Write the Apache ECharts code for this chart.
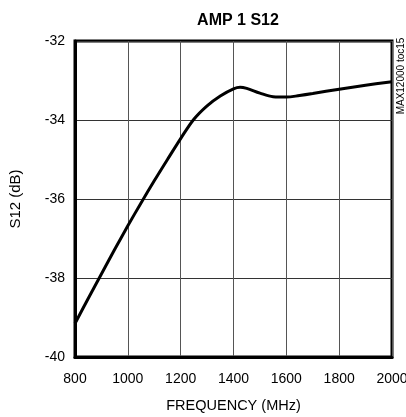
<!DOCTYPE html>
<html>
<head>
<meta charset="utf-8">
<script src="https://cdn.jsdelivr.net/npm/echarts@6/dist/echarts.min.js"></script>
<style>html,body{margin:0;padding:0;background:#fff;}#c{width:406px;height:417px;}</style>
</head>
<body>
<div id="c"></div>
<script>
var freq = [800, 850, 900, 950, 1000, 1050, 1100, 1150, 1200, 1250, 1300, 1350, 1400, 1425, 1450, 1500, 1550, 1600, 1650, 1700, 1800, 1900, 2000];
var s12  = [-39.15, -38.52, -37.9, -37.28, -36.68, -36.1, -35.54, -35.0, -34.47, -33.98, -33.64, -33.39, -33.21, -33.17, -33.2, -33.32, -33.41, -33.42, -33.38, -33.33, -33.22, -33.12, -33.03];
var xTicks = [800, 1000, 1200, 1400, 1600, 1800, 2000];
var yTicks = [-40, -38, -36, -34, -32];

var font = 'Liberation Sans, Arial, sans-serif';
var chart = echarts.init(document.getElementById('c'), null, {renderer: 'canvas'});
chart.setOption({
  animation: false,
  title: {
    text: 'AMP 1 S12', left: 233, top: 8, textAlign: 'center',
    textStyle: {fontFamily: font, fontSize: 16, fontWeight: 'bold', color: '#000'}
  },
  grid: {left: 75, right: 14, top: 41, bottom: 60, outerBoundsMode: 'none', containLabel: false,
         show: true, borderColor: '#000', borderWidth: 3, backgroundColor: 'transparent'},
  xAxis: {
    type: 'value', min: xTicks[0], max: xTicks[xTicks.length - 1], interval: 200,
    name: 'FREQUENCY (MHz)', nameLocation: 'middle', nameGap: 41,
    nameTextStyle: {fontFamily: font, fontSize: 14.5, color: '#000'},
    axisLine: {show: true, lineStyle: {color: '#000', width: 3}},
    axisTick: {show: false},
    axisLabel: {fontFamily: font, fontSize: 14, color: '#000', margin: 15,
                formatter: function (v) { return String(v); }},
    splitLine: {show: true, lineStyle: {color: '#555', width: 1}}
  },
  yAxis: {
    type: 'value', min: yTicks[0], max: yTicks[yTicks.length - 1], interval: 2,
    name: 'S12 (dB)', nameLocation: 'middle', nameGap: 52, nameRotate: 90,
    nameTextStyle: {fontFamily: font, fontSize: 15, color: '#000'},
    axisLine: {show: true, lineStyle: {color: '#000', width: 3}},
    axisTick: {show: false},
    axisLabel: {fontFamily: font, fontSize: 14, color: '#000', margin: 10,
                formatter: function (v) { return String(v); }},
    splitLine: {show: true, lineStyle: {color: '#333', width: 1}}
  },
  graphic: [{
    type: 'text', x: 401, y: 76, rotation: Math.PI / 2,
    style: {text: 'MAX12000 toc15', fontFamily: font, fontSize: 10, fill: '#000', textAlign: 'center', textVerticalAlign: 'middle'}
  }],
  series: [{
    type: 'line', data: freq.map(function (f, i) { return [f, s12[i]]; }),
    smooth: 0.35, showSymbol: false, lineStyle: {color: '#000', width: 3}
  }]
});
</script>
</body>
</html>
